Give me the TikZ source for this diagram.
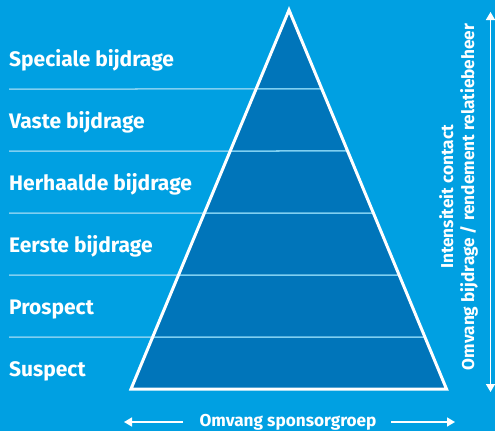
\documentclass[tikz,border=0pt]{standalone}
\usepackage{fontspec}
\setmainfont{Fira Sans}
\usetikzlibrary{arrows.meta,calc}
\definecolor{skyblue}{HTML}{00A0E2}
\definecolor{pyrblue}{HTML}{0075BA}
\definecolor{rulecol}{HTML}{7FCFF1}
\tikzset{
  lbl/.style={anchor=base west,inner sep=0pt,font=\bfseries\fontsize{21}{24}\selectfont,text=white},
  axislbl/.style={anchor=base,inner sep=0pt,font=\bfseries\fontsize{17.2}{20}\selectfont,text=white},
  rowline/.style={rulecol,line width=1.5pt},
  axisarrow/.style={white,line width=1.5pt,-{Triangle[length=8pt,width=9pt]}}
}
\begin{document}
\begin{tikzpicture}[x=1pt,y=-1pt]
\fill[skyblue] (0,0) rectangle (495,431);
\useasboundingbox (0,0) rectangle (495,431);
% pyramid
\coordinate (top) at (289,10);
\coordinate (botleft) at (131,389);
\coordinate (botright) at (446.5,389);
\fill[pyrblue] (top) -- (botleft) -- (botright) -- cycle;
% row lines
\foreach \y in {89,151,213,275,337}
  \draw[rowline] (9,\y) -- ($(top)!{(\y-10)/379}!(botright)$);
\draw[white,line width=3pt,line join=miter] (top) -- (botleft) -- (botright) -- cycle;
% row labels
\node[lbl] (speciale) at (9,66) {Speciale bijdrage};
\node[lbl] (vaste) at (9,128) {Vaste bijdrage};
\node[lbl] (herhaalde) at (9,190) {Herhaalde bijdrage};
\node[lbl] (eerste) at (9,252) {Eerste bijdrage};
\node[lbl] (prospect) at (9,314) {Prospect};
\node[lbl] (suspect) at (9,376) {Suspect};
% horizontal axis
\node[axislbl] (sponsor) at (288,426) {Omvang sponsorgroep};
\coordinate (hleft) at (124,422);
\coordinate (hright) at (455,422);
\draw[axisarrow] (183,422) -- (hleft);
\draw[axisarrow] (391,422) -- (hright);
% vertical axis
\node[axislbl,rotate=90] (contact) at (453,197) {Intensiteit contact};
\node[axislbl,rotate=90] (rendement) at (474,197) {Omvang bijdrage / rendement relatiebeheer};
\coordinate (vtop) at (490.5,12);
\coordinate (vbot) at (490.5,392);
\draw[axisarrow,{Triangle[length=8pt,width=9pt]}-{Triangle[length=8pt,width=9pt]}] (vbot) -- (vtop);
\end{tikzpicture}
\end{document}
